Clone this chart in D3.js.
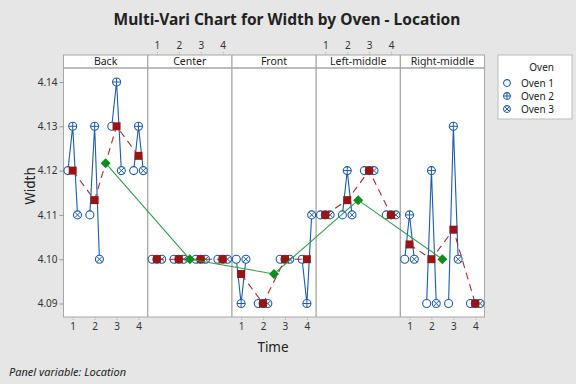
<!DOCTYPE html>
<html>
<head>
<meta charset="utf-8">
<script src="https://cdn.jsdelivr.net/npm/d3@7"></script>
<style>
  body { margin: 0; background: #e6e6e6; }
  svg { display: block; font-family: "Noto Sans", "Open Sans", sans-serif; }
</style>
</head>
<body>
<div id="chart"></div>
<script>
// data
var locations = ["Back", "Center", "Front", "Left-middle", "Right-middle"];
var times = [1, 2, 3, 4];
var ovens = ["Oven 1", "Oven 2", "Oven 3"];

// Width values per location, listed time 1..4, oven 1..3 within each time
var backWidth   = [4.12, 4.13, 4.11,  4.11, 4.13, 4.10,  4.13, 4.14, 4.12,  4.12, 4.13, 4.12];
var centerWidth = [4.10, 4.10, 4.10,  4.10, 4.10, 4.10,  4.10, 4.10, 4.10,  4.10, 4.10, 4.10];
var frontWidth  = [4.10, 4.09, 4.10,  4.09, 4.09, 4.09,  4.10, 4.10, 4.10,  4.10, 4.09, 4.11];
var leftWidth   = [4.11, 4.11, 4.11,  4.11, 4.12, 4.11,  4.12, 4.12, 4.12,  4.11, 4.11, 4.11];
var rightWidth  = [4.10, 4.11, 4.10,  4.09, 4.12, 4.09,  4.09, 4.13, 4.10,  4.09, 4.09, 4.09];
var widthTicks = [4.09, 4.10, 4.11, 4.12, 4.13, 4.14];

var allWidth = [backWidth, centerWidth, frontWidth, leftWidth, rightWidth];

var svgWidth = 576, svgHeight = 384;
var plotLeft = 63.5, plotRight = 484.5;
var stripTop = 55, panelTop = 68, panelBottom = 317;

var svg = d3.select("#chart").append("svg")
  .attr("width", svgWidth)
  .attr("height", svgHeight);

svg.append("rect").attr("width", svgWidth).attr("height", svgHeight).attr("fill", "#e6e6e6");

// scales
var panelScale = d3.scaleBand().domain(locations).range([plotLeft, plotRight]);
var timeScale = d3.scalePoint().domain(times).range([0, panelScale.bandwidth()]).padding(0.42);
var ovenScale = d3.scalePoint().domain(ovens).range([-4.8, 4.8]);
var yScale = d3.scaleLinear().domain([4.09, 4.14]).range([303.5, 82]);

// build rows
var rows = [];
locations.forEach(function(loc, li) {
  times.forEach(function(t, ti) {
    ovens.forEach(function(o, oi) {
      rows.push({loc: loc, time: t, oven: o, width: allWidth[li][ti * 3 + oi]});
    });
  });
});

var timeMeans = [];
locations.forEach(function(loc) {
  times.forEach(function(t) {
    var m = d3.mean(rows.filter(d => d.loc == loc && d.time == t), d => d.width);
    timeMeans.push({loc: loc, time: t, width: m});
  });
});
var panelMeans = locations.map(function(loc) {
  return {loc: loc, width: d3.mean(timeMeans.filter(d => d.loc == loc), d => d.width)};
});

var px = d => panelScale(d.loc) + timeScale(d.time);

// title
svg.append("text")
  .attr("x", 287).attr("y", 25)
  .attr("text-anchor", "middle")
  .style("font-size", "15.5px").style("font-weight", "bold").attr("fill", "#222")
  .text("Multi-Vari Chart for Width by Oven - Location");

// panels background
svg.append("rect")
  .attr("x", plotLeft).attr("y", stripTop)
  .attr("width", plotRight - plotLeft).attr("height", panelBottom - stripTop)
  .attr("fill", "white").attr("stroke", "#a6a6a6");

// strips
var strips = svg.selectAll("g.strip").data(locations).enter().append("g").attr("class", "strip");
strips.append("text")
  .attr("x", d => panelScale(d) + panelScale.bandwidth() / 2)
  .attr("y", 65)
  .attr("text-anchor", "middle")
  .style("font-size", "10.5px").attr("fill", "#222")
  .text(d => d);
svg.append("line")
  .attr("x1", plotLeft).attr("x2", plotRight).attr("y1", panelTop).attr("y2", panelTop)
  .attr("stroke", "#a6a6a6").attr("stroke-width", 1.3);
svg.selectAll("line.divider").data(locations.slice(1)).enter().append("line")
  .attr("class", "divider")
  .attr("x1", d => panelScale(d)).attr("x2", d => panelScale(d))
  .attr("y1", stripTop).attr("y2", panelBottom)
  .attr("stroke", "#a6a6a6").attr("stroke-width", 1.3);

// y axis
var leftAxis = d3.axisLeft(yScale).tickValues(widthTicks).tickFormat(d3.format(".2f")).tickSize(4).tickPadding(2);
var yAxis = svg.append("g").attr("transform", `translate(${plotLeft}, 0)`).call(leftAxis);
yAxis.select(".domain").remove();
yAxis.selectAll("line").attr("stroke", "#999");
yAxis.selectAll("text").style("font-size", "10px").attr("fill", "#333")
  .style("font-family", "'Noto Sans', sans-serif");

// time axes, alternating bottom / top
locations.forEach(function(loc, li) {
  var isTop = li % 2 == 1;
  var ax = isTop ? d3.axisTop(timeScale) : d3.axisBottom(timeScale);
  ax.tickSize(4).tickPadding(2);
  var g = svg.append("g")
    .attr("transform", `translate(${panelScale(loc)}, ${isTop ? stripTop : panelBottom})`)
    .call(ax);
  g.select(".domain").remove();
  g.selectAll("line").attr("stroke", "#aaa").attr("stroke-dasharray", "1,1");
  g.selectAll("text").style("font-size", "10px").attr("fill", "#333")
    .style("font-family", "'Noto Sans', sans-serif");
});

// axis titles
svg.append("text")
  .attr("x", 273).attr("y", 352)
  .attr("text-anchor", "middle")
  .style("font-size", "13.5px").attr("fill", "#222")
  .text("Time");
svg.append("text")
  .attr("transform", "translate(35, 186) rotate(-90)")
  .attr("text-anchor", "middle")
  .style("font-size", "13.5px").attr("fill", "#222")
  .text("Width");

svg.append("text")
  .attr("x", 9).attr("y", 376)
  .style("font-size", "11px").style("font-style", "italic").attr("fill", "#222")
  .text("Panel variable: Location");

var blue = "#1c5caa";

// blue lines within each time group
var line = d3.line()
  .x(d => px(d) + ovenScale(d.oven))
  .y(d => yScale(d.width));
var groups = d3.groups(rows, d => d.loc + "|" + d.time);
svg.selectAll("path.oven").data(groups).enter().append("path")
  .attr("class", "oven")
  .attr("d", d => line(d[1]))
  .attr("fill", "none")
  .attr("stroke", blue)
  .attr("stroke-width", 1.1);

// oven markers
function drawMarker(g, oven, r) {
  g.append("circle").attr("r", r).attr("fill", "white").attr("stroke", blue).attr("stroke-width", 1.1);
  if (oven == "Oven 2") {
    g.append("path").attr("d", `M${-r},0H${r}M0,${-r}V${r}`).attr("stroke", blue).attr("stroke-width", 1);
  } else if (oven == "Oven 3") {
    var k = r * 0.707;
    g.append("path").attr("d", `M${-k},${-k}L${k},${k}M${-k},${k}L${k},${-k}`).attr("stroke", blue).attr("stroke-width", 1);
  }
}
svg.selectAll("g.pt").data(rows).enter().append("g")
  .attr("class", "pt")
  .attr("transform", d => `translate(${px(d) + ovenScale(d.oven)}, ${yScale(d.width)})`)
  .each(function(d) { drawMarker(d3.select(this), d.oven, 4); });

// red dashed line of time means within each panel
var meanLine = d3.line().x(d => px(d)).y(d => yScale(d.width));
svg.selectAll("path.tmean").data(d3.groups(timeMeans, d => d.loc)).enter().append("path")
  .attr("class", "tmean")
  .attr("d", d => meanLine(d[1]))
  .attr("fill", "none")
  .attr("stroke", "#a52a2a")
  .attr("stroke-width", 1.1)
  .attr("stroke-dasharray", "7,5");
svg.selectAll("rect.tmean").data(timeMeans).enter().append("rect")
  .attr("class", "tmean")
  .attr("x", d => px(d) - 4).attr("y", d => yScale(d.width) - 4)
  .attr("width", 8).attr("height", 8)
  .attr("fill", "#961515");

// green line of panel means
svg.append("path")
  .datum(panelMeans)
  .attr("d", d3.line().x(d => panelScale(d.loc) + panelScale.bandwidth() / 2).y(d => yScale(d.width)))
  .attr("fill", "none")
  .attr("stroke", "#2f9e44")
  .attr("stroke-width", 1.1);
svg.selectAll("path.pmean").data(panelMeans).enter().append("path")
  .attr("class", "pmean")
  .attr("transform", d => `translate(${panelScale(d.loc) + panelScale.bandwidth() / 2}, ${yScale(d.width)})`)
  .attr("d", "M0,-5L5,0L0,5L-5,0Z")
  .attr("fill", "#0e8a1f");

// legend
var legend = svg.append("g");
legend.append("rect")
  .attr("x", 498).attr("y", 55).attr("width", 74).attr("height", 64)
  .attr("fill", "white").attr("stroke", "#bbb");
legend.append("text")
  .attr("x", 554).attr("y", 71).attr("text-anchor", "end")
  .style("font-size", "10px").attr("fill", "#222").text("Oven");
ovens.forEach(function(o, i) {
  var yy = 83 + i * 13;
  var g = legend.append("g").attr("transform", `translate(507, ${yy})`);
  drawMarker(g, o, 3.4);
  legend.append("text")
    .attr("x", 554).attr("y", yy + 3.5).attr("text-anchor", "end")
    .style("font-size", "10px").attr("fill", "#222").text(o);
});
</script>
</body>
</html>
